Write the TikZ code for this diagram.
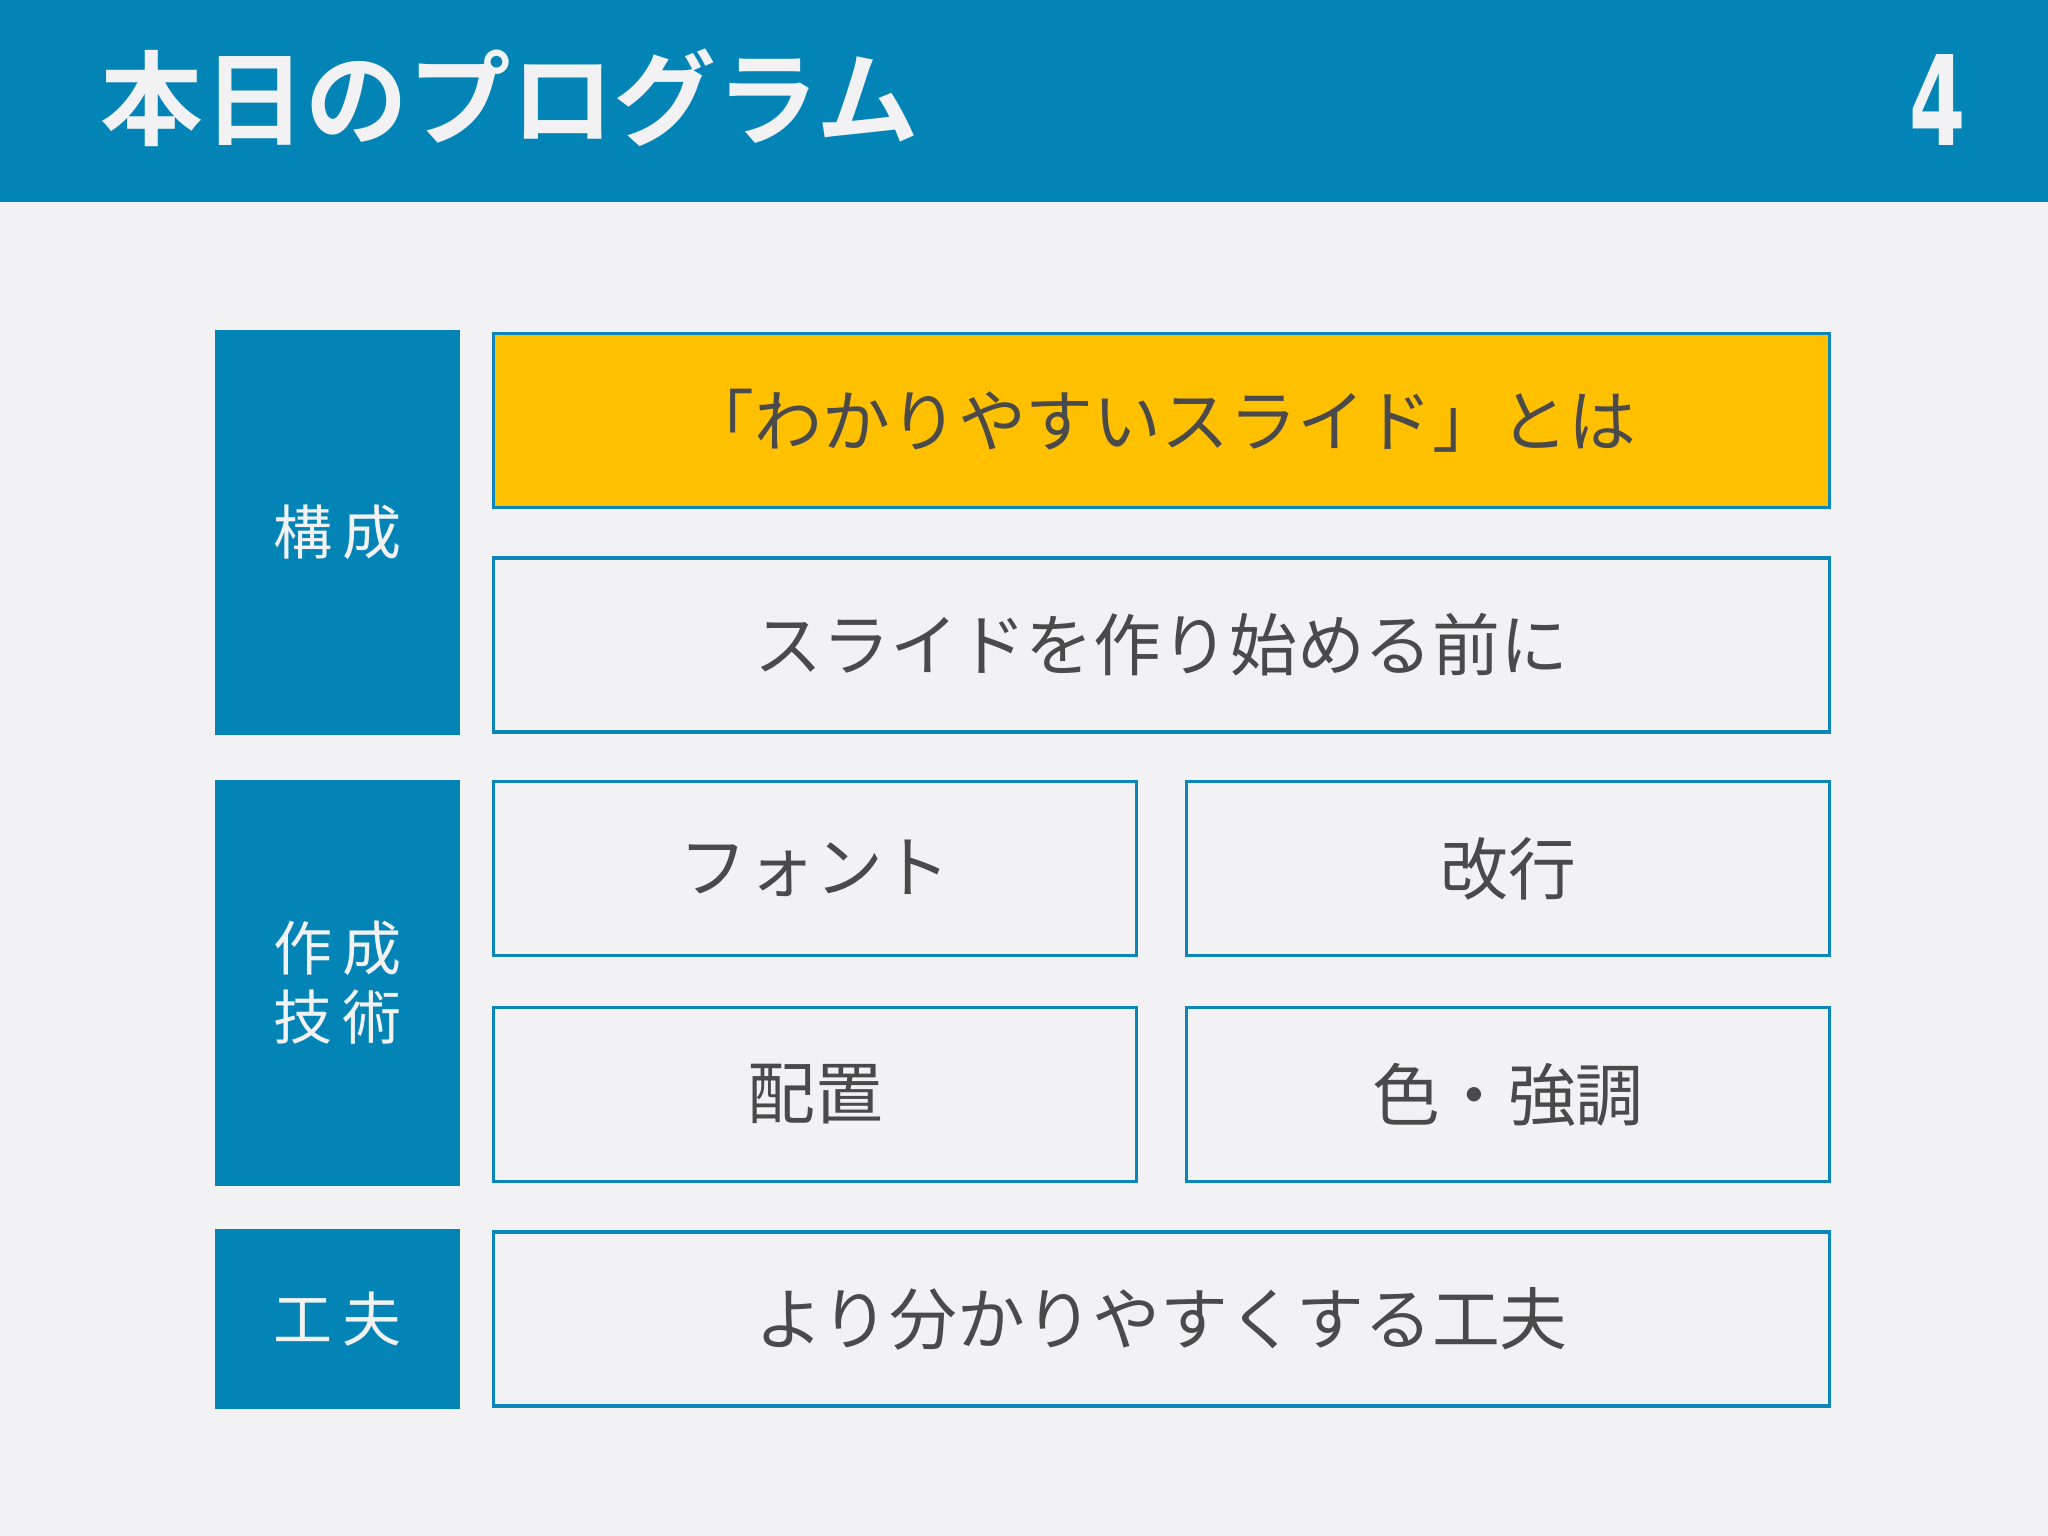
\documentclass[tikz,border=0pt]{standalone}
\usepackage{fontspec}
\newfontfamily\jpfont{Noto Sans CJK JP}
\newfontfamily\jpbold{Noto Sans CJK JP Bold}
\newfontfamily\numfont{DejaVu Sans Condensed Bold}

\definecolor{azul}{HTML}{0284B6}
\definecolor{borde}{HTML}{0A87B8}
\definecolor{amarillo}{HTML}{FFC000}
\definecolor{fondo}{HTML}{F2F2F4}
\definecolor{gris}{HTML}{4A4A4A}

\tikzset{
	catbox/.style={fill=azul, draw=none, inner sep=0pt, outer sep=0pt,
		minimum width=2.45cm, text=fondo, align=center,
		font=\jpfont\fontsize{16.8}{19.6}\selectfont},
	itembox/.style={fill=fondo, draw=borde, line width=0.036cm, inner sep=0pt,
		outer sep=0pt, minimum height=1.74cm, text=gris,
		font=\jpfont\fontsize{19.3}{22}\selectfont},
	widebox/.style={itembox, minimum width=13.36cm},
	halfbox/.style={itembox, minimum width=6.43cm}
}

\begin{document}
\begin{tikzpicture}

	% 1. Fondo y cabecera
	\fill[fondo] (0,0) rectangle (20.48,15.36);
	\fill[azul] (0,13.34) rectangle (20.48,15.36);
	\node[anchor=west, text=fondo, inner sep=0pt, font=\jpbold\fontsize{29.2}{34}\selectfont]
		(titulo) at (1.00,14.38) {本日のプログラム};
	\node[anchor=east, text=fondo, inner sep=0pt, font=\numfont\fontsize{35.5}{40}\selectfont]
		(pagina) at (19.66,14.36) {\scalebox{0.72}[1]{4}};

	% 2. Bloques de la izquierda (categorías)
	\node[catbox, minimum height=4.05cm] (C1) at (3.375,10.035) {構\,成};
	\node[catbox, minimum height=4.06cm] (C2) at (3.375,5.53) {作\,成\\技\,術};
	\node[catbox, minimum height=1.80cm] (C3) at (3.375,2.17) {工\,夫};

	% 3. Bloques de la derecha (temas)
	\node[widebox, fill=amarillo] (T1) at (11.615,11.155) {「わかりやすいスライド」とは};
	\node[widebox] (T2) at (11.615,8.91) {スライドを作り始める前に};
	\node[halfbox] (T3) at (8.15,6.675) {フォント};
	\node[halfbox] (T4) at (15.08,6.675) {改行};
	\node[halfbox] (T5) at (8.15,4.415) {配置};
	\node[halfbox] (T6) at (15.08,4.415) {色・強調};
	\node[widebox] (T7) at (11.615,2.17) {より分かりやすくする工夫};

\end{tikzpicture}
\end{document}
